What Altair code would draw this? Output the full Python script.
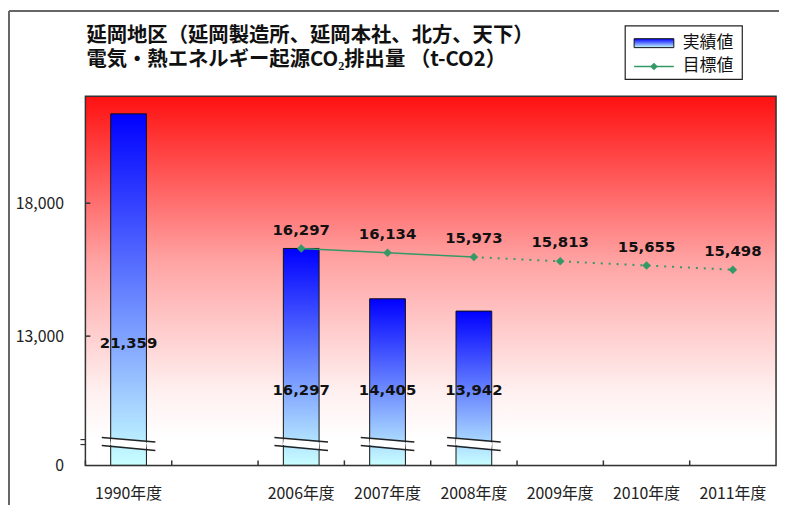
import altair as alt
import pandas as pd

# ---------------- data ----------------
categories = ["1990年度", " ", "2006年度", "2007年度", "2008年度", "2009年度", "2010年度", "2011年度"]
actual_years = ["1990年度", "2006年度", "2007年度", "2008年度"]
actual_values = [21359, 16297, 14405, 13942]
target_years = ["2006年度", "2007年度", "2008年度", "2009年度", "2010年度", "2011年度"]
target_values = [16297, 16134, 15973, 15813, 15655, 15498]
y_tick_values = [8140, 13000, 18000]
legend_labels = ["実績値", "目標値"]
title_lines = ["延岡地区（延岡製造所、延岡本社、北方、天下）", "電気・熱エネルギー起源CO₂排出量 （t-CO2）"]

df_cat = pd.DataFrame({"年度": categories})
df_act = pd.DataFrame({"年度": actual_years, "値": actual_values})
df_tgt = pd.DataFrame({"年度": target_years, "値": target_values})
df_yt = pd.DataFrame({"値": y_tick_values[1:]})
df_one = pd.DataFrame({"k": [0]})

# ---------------- styles ----------------
FONT = "Noto Sans CJK JP"
NUMFONT = "DejaVu Sans"
GREEN = "#339966"
W, H = 696, 372
YMIN, YMAX = y_tick_values[0], 22020

bar_grad = {"gradient": "linear", "x1": 0, "y1": 0, "x2": 0, "y2": 1,
            "stops": [{"offset": 0, "color": "#0000ff"}, {"offset": 1, "color": "#c8ffff"}]}
bg_grad = {"gradient": "linear", "x1": 0, "y1": 0, "x2": 0, "y2": 1,
           "stops": [{"offset": 0, "color": "#ff1010"},
                     {"offset": 0.45, "color": "#ffa4a4"},
                     {"offset": 0.8, "color": "#fff0f0"},
                     {"offset": 0.93, "color": "#ffffff"},
                     {"offset": 1, "color": "#ffffff"}]}

xscale = alt.Scale(domain=categories, paddingInner=0, paddingOuter=0)
xaxis = alt.Axis(title=None, ticks=False, domain=False, grid=False, labelAngle=0,
                 labelFont=FONT, labelFontSize=16, labelColor="#222", labelPadding=20)
yscale = alt.Scale(domain=[YMIN, YMAX], nice=False, zero=False)
yaxis = alt.Axis(title=None, values=y_tick_values, ticks=False, domain=False, grid=False,
                 labelFont=FONT, labelFontSize=16, labelColor="#222", labelPadding=22,
                 labelExpr="datum.value < 10000 ? '0\u00a0\u00a0\u00a0\u00a0' : format(datum.value, ',')")


def X(**kw):
    return alt.X("年度:N", scale=xscale, axis=xaxis, **kw)


def Y(field="値"):
    return alt.Y(f"{field}:Q", scale=yscale, axis=yaxis)


# background gradient of the plot area
bg = alt.Chart(df_one).mark_rect(fill=bg_grad).encode(
    x=alt.value(0), x2=alt.value(W), y=alt.value(0), y2=alt.value(H))

bars = alt.Chart(df_act).transform_calculate(base=str(YMIN)).mark_bar(
    size=36, fill=bar_grad, stroke="#111", strokeWidth=1).encode(
    x=X(), y=Y(), y2=alt.Y2("base:Q"))

# axis-break decoration on each bar
brk_white = alt.Chart(df_act).mark_rule(stroke="white", strokeWidth=7, xOffset=-18, x2Offset=18).encode(
    x=X(bandPosition=0.5), x2=alt.X2("年度", bandPosition=0.5),
    y=alt.value(348), y2=alt.value(352.5))
brk_up = alt.Chart(df_act).mark_rule(stroke="#222", strokeWidth=1.5, xOffset=-27, x2Offset=27).encode(
    x=X(bandPosition=0.5), x2=alt.X2("年度", bandPosition=0.5),
    y=alt.value(344), y2=alt.value(348.5))
brk_lo = alt.Chart(df_act).mark_rule(stroke="#222", strokeWidth=1.5, xOffset=-27, x2Offset=27).encode(
    x=X(bandPosition=0.5), x2=alt.X2("年度", bandPosition=0.5),
    y=alt.value(352), y2=alt.value(357))

bar_labels = alt.Chart(df_act).transform_calculate(
    ly="datum['年度'] == '1990年度' ? 12730 : 10980"
).mark_text(font=NUMFONT, fontSize=15, fontWeight="bold", color="#111", baseline="middle").encode(
    x=X(), y=Y("ly"), text=alt.Text("値:Q", format=","))

line_solid = alt.Chart(df_tgt).transform_filter(
    alt.FieldOneOfPredicate(field="年度", oneOf=target_years[:3])
).mark_line(color=GREEN, strokeWidth=1.5).encode(x=X(), y=Y())
line_dot = alt.Chart(df_tgt).transform_filter(
    alt.FieldOneOfPredicate(field="年度", oneOf=target_years[2:])
).mark_line(color=GREEN, strokeWidth=2, strokeDash=[2, 6]).encode(x=X(), y=Y())
pts = alt.Chart(df_tgt).mark_point(shape="diamond", filled=True, size=75, color=GREEN, opacity=1).encode(
    x=X(), y=Y())
line_labels = alt.Chart(df_tgt).mark_text(font=NUMFONT, fontSize=15, fontWeight="bold", color="#111",
                                           baseline="middle", dy=-19).encode(
    x=X(), y=Y(), text=alt.Text("値:Q", format=","))

# inward tick marks
xticks = alt.Chart(df_cat).mark_rule(stroke="#333", strokeWidth=1.5).encode(
    x=X(bandPosition=0), y=alt.value(H - 5), y2=alt.value(H))
yticks = alt.Chart(df_yt).mark_rule(stroke="#333", strokeWidth=1.5).encode(
    y=Y(), x=alt.value(0), x2=alt.value(5))
yb1 = alt.Chart(df_one).mark_rule(stroke="#333", strokeWidth=1.2).encode(
    x=alt.value(-5), x2=alt.value(0), y=alt.value(346))
yb2 = alt.Chart(df_one).mark_rule(stroke="#333", strokeWidth=1.2).encode(
    x=alt.value(-5), x2=alt.value(0), y=alt.value(351))

# plot border on top
border = alt.Chart(df_one).mark_rect(fillOpacity=0, stroke="#333", strokeWidth=1.5).encode(
    x=alt.value(0), x2=alt.value(W), y=alt.value(0), y2=alt.value(H))

# title (two lines)
title1 = alt.Chart(df_one).mark_text(font=FONT, fontSize=20.5, fontWeight="bold", align="left",
                                     baseline="middle", color="#111").encode(
    x=alt.value(1), y=alt.value(-61), text=alt.value(title_lines[0]))
title2 = alt.Chart(df_one).mark_text(font=FONT, fontSize=20.5, fontWeight="bold", align="left",
                                     baseline="middle", color="#111").encode(
    x=alt.value(1), y=alt.value(-36), text=alt.value(title_lines[1]))

# legend
leg_box = alt.Chart(df_one).mark_rect(fill="white", stroke="#222", strokeWidth=1.2).encode(
    x=alt.value(544), x2=alt.value(662), y=alt.value(-71), y2=alt.value(-17))
leg_sw = alt.Chart(df_one).mark_rect(fill=bar_grad, stroke="#111", strokeWidth=1).encode(
    x=alt.value(553), x2=alt.value(593), y=alt.value(-58), y2=alt.value(-49))
leg_ln = alt.Chart(df_one).mark_rule(stroke=GREEN, strokeWidth=1.5).encode(
    x=alt.value(553), x2=alt.value(593), y=alt.value(-30))
leg_pt = alt.Chart(df_one).mark_point(shape="diamond", filled=True, size=60, color=GREEN, opacity=1).encode(
    x=alt.value(573), y=alt.value(-30))
leg_t1 = alt.Chart(df_one).mark_text(font=FONT, fontSize=17, align="left", baseline="middle", color="#111").encode(
    x=alt.value(602), y=alt.value(-54), text=alt.value(legend_labels[0]))
leg_t2 = alt.Chart(df_one).mark_text(font=FONT, fontSize=17, align="left", baseline="middle", color="#111").encode(
    x=alt.value(602), y=alt.value(-30), text=alt.value(legend_labels[1]))

# outer frame lines
frame_l = alt.Chart(df_one).mark_rule(stroke="#666", strokeWidth=2).encode(
    x=alt.value(-77), y=alt.value(-86), y2=alt.value(412))
frame_t = alt.Chart(df_one).mark_rule(stroke="#666", strokeWidth=2).encode(
    x=alt.value(-77), x2=alt.value(699), y=alt.value(-86))

chart = alt.layer(
    bg, bars, brk_white, brk_up, brk_lo, bar_labels,
    line_solid, line_dot, pts, line_labels,
    xticks, yticks, yb1, yb2, border,
    title1, title2,
    leg_box, leg_sw, leg_ln, leg_pt, leg_t1, leg_t2,
    frame_l, frame_t,
).properties(
    width=W, height=H,
    autosize=alt.AutoSizeParams(type="none"),
    padding={"left": 78, "top": 87, "right": 3, "bottom": 40},
).configure_view(strokeWidth=0).configure(background="white")

chart.save("out.html", embed_options={"renderer": "svg", "actions": False})
